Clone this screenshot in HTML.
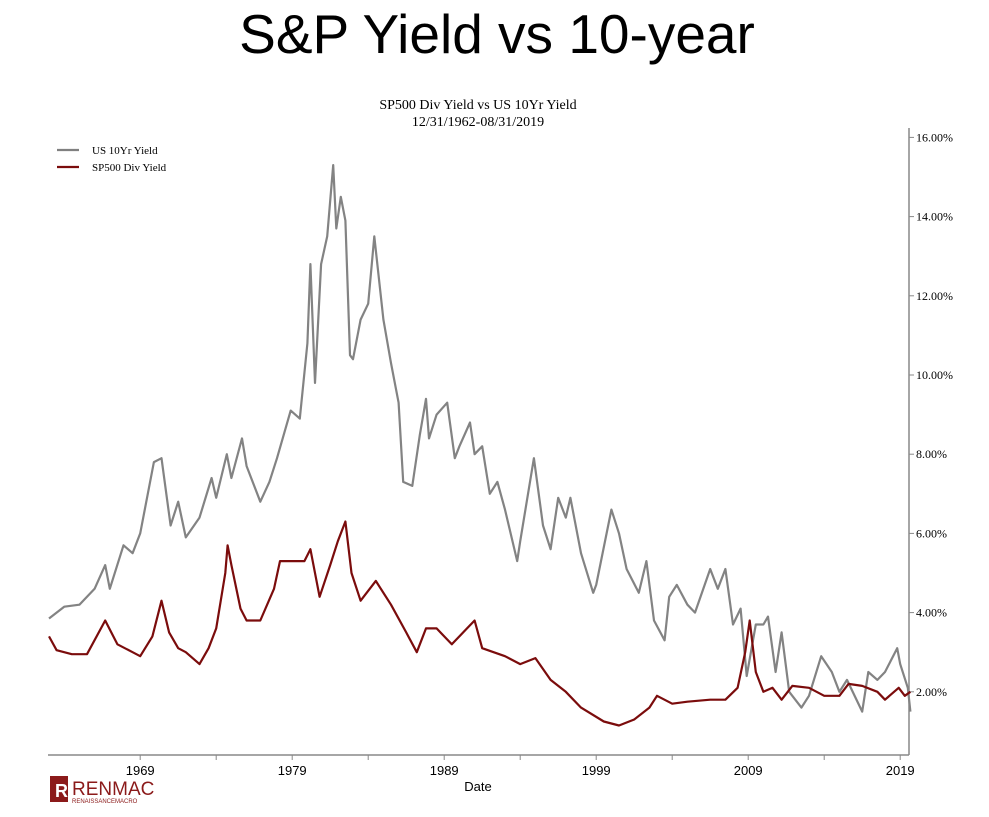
<!DOCTYPE html>
<html><head><meta charset="utf-8"><style>
body{margin:0;background:#fff;width:989px;height:817px;overflow:hidden;position:relative;font-family:"Liberation Sans",sans-serif}
#title{position:absolute;left:0;width:994px;top:2px;text-align:center;font-size:55px;color:#000}
svg{position:absolute;left:0;top:0}
</style></head><body>
<div id="title">S&amp;P Yield vs 10-year</div>
<svg id="chart" width="989" height="817">
<text x="478" y="109" text-anchor="middle" font-family="Liberation Serif,serif" font-size="14">SP500 Div Yield vs US 10Yr Yield</text>
<text x="478" y="126" text-anchor="middle" font-family="Liberation Serif,serif" font-size="14">12/31/1962-08/31/2019</text>
<g>
<line x1="57" y1="150" x2="79" y2="150" stroke="#808080" stroke-width="2.2"/>
<text x="92" y="154" font-family="Liberation Serif,serif" font-size="11">US 10Yr Yield</text>
<line x1="57" y1="167" x2="79" y2="167" stroke="#7b0c0c" stroke-width="2.2"/>
<text x="92" y="171" font-family="Liberation Serif,serif" font-size="11">SP500 Div Yield</text>
</g>
<g id="axes"></g>
<g id="series"></g>
<text x="478" y="791" text-anchor="middle" font-size="13">Date</text>
<g>
<rect x="50" y="776" width="18" height="26" fill="#8b1a1a"/>
<text x="55" y="797" font-size="18" font-weight="bold" fill="#fff">R</text>
<text x="72" y="795" font-size="19" fill="#8b1a1a">RENMAC</text>
<text x="72" y="803" font-size="6" fill="#8b1a1a">RENAISSANCEMACRO</text>
</g>
</svg>
<script>
const tenYrDates=[1963.0,1964,1965,1966.0,1966.7,1967.0,1967.9,1968.5,1969.0,1969.9,1970.4,1971.0,1971.5,1972.0,1972.9,1973.7,1974.0,1974.7,1975.0,1975.7,1976.0,1976.9,1977.5,1978.0,1978.9,1979.5,1980.0,1980.2,1980.5,1980.9,1981.3,1981.7,1981.9,1982.2,1982.5,1982.8,1983.0,1983.5,1984.0,1984.4,1985.0,1985.5,1986.0,1986.3,1986.9,1987.4,1987.8,1988.0,1988.5,1989.2,1989.7,1990.0,1990.7,1991.0,1991.5,1992.0,1992.5,1993.0,1993.8,1994.0,1994.9,1995.5,1996.0,1996.5,1997.0,1997.3,1998.0,1998.8,1999.0,2000.0,2000.5,2001.0,2001.8,2002.3,2002.8,2003.5,2003.8,2004.3,2005.0,2005.5,2006.5,2007.0,2007.5,2008.0,2008.5,2008.9,2009.5,2010.0,2010.3,2010.8,2011.2,2011.7,2012.5,2013.0,2013.8,2014.5,2015.0,2015.5,2016.5,2016.9,2017.5,2018.0,2018.8,2019.0,2019.5,2019.67];
const tenYrValues=[3.85,4.15,4.2,4.6,5.2,4.6,5.7,5.5,6.0,7.8,7.9,6.2,6.8,5.9,6.4,7.4,6.9,8.0,7.4,8.4,7.7,6.8,7.3,7.9,9.1,8.9,10.8,12.8,9.8,12.8,13.5,15.3,13.7,14.5,13.9,10.5,10.4,11.4,11.8,13.5,11.4,10.3,9.3,7.3,7.2,8.5,9.4,8.4,9.0,9.3,7.9,8.2,8.8,8.0,8.2,7.0,7.3,6.6,5.3,5.8,7.9,6.2,5.6,6.9,6.4,6.9,5.5,4.5,4.7,6.6,6.0,5.1,4.5,5.3,3.8,3.3,4.4,4.7,4.2,4.0,5.1,4.6,5.1,3.7,4.1,2.4,3.7,3.7,3.9,2.5,3.5,2.0,1.6,1.9,2.9,2.5,2.0,2.3,1.5,2.5,2.3,2.5,3.1,2.7,2.1,1.5];
const divDates=[1963.0,1963.5,1964.5,1965.5,1966.7,1967.5,1968.5,1969.0,1969.8,1970.4,1970.9,1971.5,1972.0,1972.9,1973.5,1974.0,1974.6,1974.75,1975.0,1975.6,1976.0,1976.9,1977.8,1978.2,1979.0,1979.8,1980.2,1980.8,1981.5,1982.0,1982.5,1982.9,1983.5,1984.5,1985.5,1986.5,1987.2,1987.8,1988.5,1989.5,1990.5,1991.0,1991.5,1993.0,1994.0,1995.0,1996.0,1997.0,1998.0,1999.5,2000.5,2001.5,2002.5,2003.0,2004.0,2005.0,2006.5,2007.5,2008.3,2008.8,2009.1,2009.5,2010.0,2010.6,2011.2,2011.9,2013.0,2014.0,2015.0,2015.6,2016.5,2017.5,2018.0,2018.9,2019.3,2019.67];
const divValues=[3.4,3.05,2.95,2.95,3.8,3.2,3.0,2.9,3.4,4.3,3.5,3.1,3.0,2.7,3.1,3.6,5.0,5.7,5.2,4.1,3.8,3.8,4.6,5.3,5.3,5.3,5.6,4.4,5.2,5.8,6.3,5.0,4.3,4.8,4.2,3.5,3.0,3.6,3.6,3.2,3.6,3.8,3.1,2.9,2.7,2.85,2.3,2.0,1.6,1.25,1.15,1.3,1.6,1.9,1.7,1.75,1.8,1.8,2.1,3.0,3.8,2.5,2.0,2.1,1.8,2.15,2.1,1.9,1.9,2.2,2.15,2.0,1.8,2.1,1.9,2.0];
const yTicks=[2,4,6,8,10,12,14,16];
const xTickYears=[1969,1974,1979,1984,1989,1994,1999,2004,2009,2014,2019];
const xLabelYears=[1969,1979,1989,1999,2009,2019];

const NS="http://www.w3.org/2000/svg";
const X=d=>49+(d-1963)*15.2;
const Y=v=>771-v*39.6;
function mk(tag,attrs,parent){const e=document.createElementNS(NS,tag);for(const k in attrs)e.setAttribute(k,attrs[k]);parent.appendChild(e);return e;}
const axes=document.getElementById('axes');
const bx=mk('line',{x1:48,y1:755,x2:909,y2:755,stroke:'#888','stroke-width':1.5},axes);


const ry=mk('line',{x1:909,y1:128,x2:909,y2:755,stroke:'#888','stroke-width':1.5},axes);


yTicks.forEach(v=>{
  mk('line',{x1:909,y1:Y(v),x2:914,y2:Y(v),stroke:'#888'},axes);
  const t=mk('text',{x:916,y:Y(v)+4,'font-family':'Liberation Serif,serif','font-size':12},axes);
  t.textContent=v.toFixed(2)+'%';
  
  
});
xTickYears.forEach(y=>{mk('line',{x1:X(y),y1:755,x2:X(y),y2:760,stroke:'#888'},axes);});
xLabelYears.forEach(y=>{
  const t=mk('text',{x:X(y),y:775,'text-anchor':'middle','font-size':13},axes);
  t.textContent=y;
  
  
});
const ser=document.getElementById('series');
function line(d,v,c,name){
  const p=mk('polyline',{points:d.map((x,i)=>X(x).toFixed(1)+','+Y(v[i]).toFixed(1)).join(' '),fill:'none',stroke:c,'stroke-width':2.2,'stroke-linejoin':'round'},ser);
  
  
}
line(tenYrDates,tenYrValues,'#838383','us10yr-line');
line(divDates,divValues,'#7b0c0c','sp500-div-line');
</script>
</body></html>
